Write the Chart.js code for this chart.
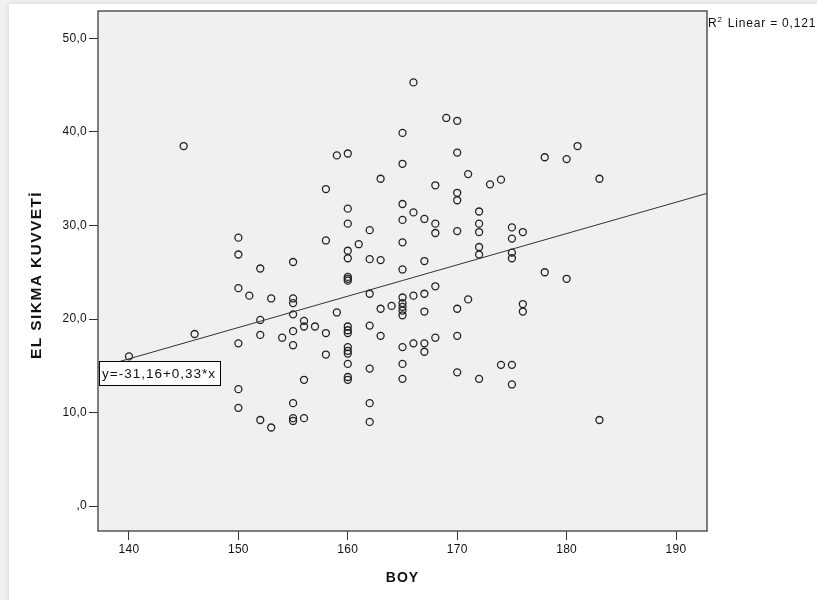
<!DOCTYPE html>
<html lang="tr">
<head>
<meta charset="utf-8">
<title>EL SIKMA KUVVETİ / BOY</title>
<script src="https://cdn.jsdelivr.net/npm/chart.js@4.4.1/dist/chart.umd.min.js"></script>
<style>
  html, body { margin: 0; padding: 0; background: #f1f1f1; }
  body { width: 817px; height: 600px; position: relative; overflow: hidden; }
  .panel {
    position: absolute; left: 9px; top: 4px; width: 840px; height: 620px;
    background: #fff; box-shadow: 0 0 6px rgba(0, 0, 0, 0.13);
  }
  #scatter { position: absolute; left: 0; top: 0; }
</style>
</head>
<body>
<div class="panel"></div>
<canvas id="scatter" width="817" height="600"></canvas>
<script>
/* SPSS style scatter: EL SIKMA KUVVETİ against BOY, with linear fit */

// BOY (cm), one entry per subject
const BOY = [
  140, 145, 146,
  150, 150, 150, 150, 150, 150,
  151, 152, 152, 152, 152, 153, 153, 154,
  155, 155, 155, 155, 155, 155, 155, 155, 155,
  156, 156, 156, 156, 157, 158, 158, 158, 158, 159, 159,
  160, 160, 160, 160, 160, 160, 160, 160, 160, 160, 160, 160, 160, 160, 160, 160, 160,
  161, 162, 162, 162, 162, 162, 162, 162,
  163, 163, 163, 163, 164,
  165, 165, 165, 165, 165, 165, 165, 165, 165, 165, 165, 165, 165, 165,
  166, 166, 166, 166,
  167, 167, 167, 167, 167, 167,
  168, 168, 168, 168, 168, 169,
  170, 170, 170, 170, 170, 170, 170, 170,
  171, 171, 172, 172, 172, 172, 172, 172, 173, 174, 174,
  175, 175, 175, 175, 175, 175, 176, 176, 176,
  178, 178, 180, 180, 181, 183, 183
];

// EL SIKMA KUVVETİ, same order as BOY
const KUVVET = [
  16.0, 38.5, 18.4,
  28.7, 26.9, 23.3, 17.4, 12.5, 10.5,
  22.5, 25.4, 19.9, 18.3, 9.2, 22.2, 8.4, 18.0,
  26.1, 22.2, 21.7, 20.5, 18.7, 17.2, 11.0, 9.4, 9.1,
  19.8, 19.2, 13.5, 9.4, 19.2, 33.9, 28.4, 18.5, 16.2, 37.5, 20.7,
  37.7, 31.8, 30.2, 27.3, 26.5, 24.5, 24.3, 24.1, 19.2, 18.8, 18.5, 17.0, 16.6, 16.3, 15.2, 13.8, 13.5,
  28.0, 29.5, 26.4, 22.7, 19.3, 14.7, 11.0, 9.0,
  35.0, 26.3, 21.1, 18.2, 21.4,
  39.9, 36.6, 32.3, 30.6, 28.2, 25.3, 22.3, 21.7, 21.3, 20.9, 20.4, 17.0, 15.2, 13.6,
  45.3, 31.4, 22.5, 17.4,
  30.7, 26.2, 22.7, 20.8, 17.4, 16.5,
  34.3, 30.2, 29.2, 23.5, 18.0, 41.5,
  41.2, 37.8, 33.5, 32.7, 29.4, 21.1, 18.2, 14.3,
  35.5, 22.1, 31.5, 30.2, 29.3, 27.7, 26.9, 13.6, 34.4, 34.9, 15.1,
  29.8, 28.6, 27.1, 26.5, 15.1, 13.0, 29.3, 21.6, 20.8,
  37.3, 25.0, 37.1, 24.3, 38.5, 35.0, 9.2
];

// linear fit (label shows rounded coefficients)
const FIT_INTERCEPT = -31.16;
const FIT_SLOPE = 0.335;
const FIT_LABEL = "y=-31,16+0,33*x";
const R2_VALUE = "0,121";

const X_RANGE = [137.17, 192.83];
const Y_RANGE = [-2.67, 52.94];
const X_TICKS = [140, 150, 160, 170, 180, 190];
const Y_TICKS = [0, 10, 20, 30, 40, 50];

const INK = "#111";
const PLOT_BG = "#F0F0F0";
const FONT = "'Liberation Sans', Arial, sans-serif";

const points = BOY.map((b, i) => ({ x: b, y: KUVVET[i] }));
const fitLine = X_RANGE.map(x => ({ x: x, y: FIT_INTERCEPT + FIT_SLOPE * x }));

function yLabel(v) {
  if (v === 0) return ",0";
  return v.toFixed(1).replace(".", ",");
}

const spssFrame = {
  id: "spssFrame",
  beforeDraw(chart) {
    const { ctx, chartArea: a } = chart;
    ctx.letterSpacing = "0.3px";
    ctx.save();
    ctx.fillStyle = PLOT_BG;
    ctx.fillRect(a.left, a.top, a.right - a.left, a.bottom - a.top);
    ctx.restore();
  },
  afterDraw(chart) {
    const { ctx, chartArea: a } = chart;
    ctx.save();
    // plot frame
    ctx.strokeStyle = "#555";
    ctx.lineWidth = 1.5;
    ctx.strokeRect(a.left, a.top, a.right - a.left, a.bottom - a.top);

    // equation box
    ctx.fillStyle = "#fff";
    ctx.fillRect(a.left + 1, 361, 121, 25);
    ctx.strokeStyle = "#000";
    ctx.lineWidth = 1;
    ctx.strokeRect(a.left + 1.5, 361.5, 121, 24);
    ctx.fillStyle = INK;
    ctx.letterSpacing = "1px";
    ctx.font = "13.5px " + FONT;
    ctx.textAlign = "left";
    ctx.textBaseline = "middle";
    ctx.fillText(FIT_LABEL, a.left + 4, 374);

    // R2 annotation
    ctx.textBaseline = "alphabetic";
    ctx.letterSpacing = "0.8px";
    ctx.font = "12px " + FONT;
    let x = a.right + 1;
    ctx.fillText("R", x, 27);
    x += ctx.measureText("R").width;
    ctx.font = "8px " + FONT;
    ctx.fillText("2", x, 22);
    x += ctx.measureText("2").width + 1;
    ctx.font = "12px " + FONT;
    ctx.fillText(" Linear = " + R2_VALUE, x, 27);

    // axis titles
    ctx.font = "bold 14px " + FONT;
    ctx.textAlign = "center";
    ctx.textBaseline = "middle";
    ctx.letterSpacing = "1px";
    ctx.fillText("BOY", (a.left + a.right) / 2, 578);
    ctx.translate(37, 275);
    ctx.rotate(-Math.PI / 2);
    ctx.font = "bold 15.5px " + FONT;
    ctx.letterSpacing = "1.4px";
    ctx.fillText("EL SIKMA KUVVETİ", 0, 0);
    ctx.restore();
  }
};

const axisGrid = {
  drawOnChartArea: false,
  drawTicks: true,
  tickLength: 9,
  tickColor: "#333",
  tickWidth: 1
};

new Chart(document.getElementById("scatter"), {
  type: "scatter",
  data: {
    datasets: [
      {
        label: "EL SIKMA KUVVETİ",
        data: points,
        pointStyle: "circle",
        pointRadius: 3.5,
        pointBorderWidth: 1.3,
        pointBorderColor: "#222",
        pointBackgroundColor: "rgba(0,0,0,0)",
        order: 2
      },
      {
        type: "line",
        label: "Linear",
        data: fitLine,
        borderColor: "#333",
        borderWidth: 1,
        pointRadius: 0,
        fill: false,
        order: 1
      }
    ]
  },
  options: {
    responsive: false,
    animation: false,
    layout: { padding: { top: 11, right: 110, left: 0, bottom: 0 } },
    plugins: {
      legend: { display: false },
      tooltip: { enabled: false }
    },
    scales: {
      x: {
        type: "linear",
        min: X_RANGE[0],
        max: X_RANGE[1],
        afterFit: s => { s.height = 69; },
        afterBuildTicks: s => { s.ticks = X_TICKS.map(v => ({ value: v })); },
        grid: axisGrid,
        border: { display: false },
        ticks: {
          includeBounds: false,
          color: INK,
          padding: 2,
          maxRotation: 0,
          font: { family: FONT, size: 12 }
        }
      },
      y: {
        type: "linear",
        min: Y_RANGE[0],
        max: Y_RANGE[1],
        afterFit: s => { s.width = 98; },
        afterBuildTicks: s => { s.ticks = Y_TICKS.map(v => ({ value: v })); },
        grid: axisGrid,
        border: { display: false },
        ticks: {
          includeBounds: false,
          color: INK,
          padding: 2,
          font: { family: FONT, size: 12 },
          callback: v => yLabel(v)
        }
      }
    }
  },
  plugins: [spssFrame]
});
</script>
</body>
</html>
